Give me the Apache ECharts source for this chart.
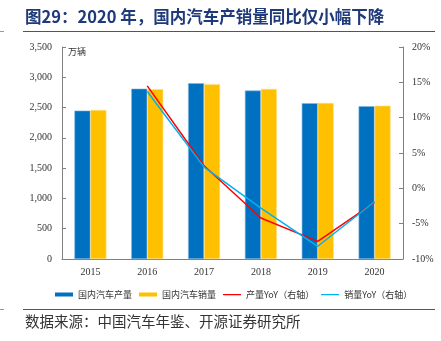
<!DOCTYPE html>
<html><head><meta charset="utf-8">
<script src="https://cdn.jsdelivr.net/npm/echarts@6/dist/echarts.min.js"></script>
<style>html,body{margin:0;padding:0;background:#fff}#c{width:441px;height:341px}</style>
</head><body><div id="c"></div>
<script>
const categories = ['2015','2016','2017','2018','2019','2020'];
const production = [2450.3, 2811.9, 2901.5, 2780.9, 2572.1, 2522.5];
const sales = [2459.8, 2802.8, 2887.9, 2808.1, 2576.9, 2531.1];
const productionYoY = [null, 14.5, 3.2, -4.2, -7.5, -2.0];
const salesYoY = [null, 13.7, 3.0, -2.8, -8.2, -1.9];
const seriesNames = ['国内汽车产量','国内汽车销量','产量YoY（右轴）','销量YoY（右轴）'];
const titleText = '图29：2020 年，国内汽车产销量同比仅小幅下降';
const sourceText = '数据来源：中国汽车年鉴、开源证券研究所';
const unitText = '万辆';

const serif = '"Liberation Serif","Noto Serif CJK SC","Noto Sans CJK SC",serif';
const cjk = '"Noto Sans CJK SC",sans-serif';
const lineIcon = 'path://M0,0L18,0Z M0,1.6h18v1.2h-18z M0,4L18,4Z';
const chart = echarts.init(document.getElementById('c'), null, {renderer:'canvas'});
chart.setOption({
  animation:false,
  backgroundColor:'#fff',
  grid:{left:62,right:38,top:47,bottom:82},
  graphic:[
    {type:'text',left:25,top:8,style:{text:titleText,font:'bold 16.5px '+cjk,fill:'#1F3A7A'}},
    {type:'line',shape:{x1:23,y1:31.5,x2:435,y2:31.5},style:{stroke:'#555',lineWidth:1}},
    {type:'line',shape:{x1:0,y1:31.5,x2:4,y2:31.5},style:{stroke:'#999',lineWidth:1}},
    {type:'line',shape:{x1:23,y1:309.5,x2:435,y2:309.5},style:{stroke:'#555',lineWidth:1}},
    {type:'line',shape:{x1:0,y1:309.5,x2:4,y2:309.5},style:{stroke:'#999',lineWidth:1}},
    {type:'text',left:25,top:314,style:{text:sourceText,font:'14.5px '+cjk,fill:'#333'}},
    {type:'text',left:68,top:47,style:{text:unitText,font:'9px '+cjk,fill:'#333'}}
  ],
  legend:{
    top:285,left:50,itemWidth:18,itemHeight:4,itemGap:7,
    textStyle:{fontFamily:cjk,fontSize:9,color:'#333'},
    itemStyle:{borderWidth:0},
    data:[
      {name:seriesNames[0],icon:'rect'},
      {name:seriesNames[1],icon:'rect'},
      {name:seriesNames[2],icon:lineIcon},
      {name:seriesNames[3],icon:lineIcon}
    ]
  },
  xAxis:{type:'category',data:categories,
    axisLine:{lineStyle:{color:'#808080'}},
    axisTick:{inside:true,length:4,lineStyle:{color:'#808080'}},
    axisLabel:{fontFamily:serif,fontSize:10,color:'#333',margin:8}},
  yAxis:[
    {type:'value',min:0,max:3500,interval:500,
     axisLine:{show:true,lineStyle:{color:'#808080'}},
     axisTick:{show:true,inside:true,length:4,lineStyle:{color:'#808080'}},
     splitLine:{show:false},
     axisLabel:{fontFamily:serif,fontSize:10,color:'#333',margin:10,
       formatter:v=>v.toLocaleString('en-US')}},
    {type:'value',min:-10,max:20,interval:5,position:'right',
     axisLine:{show:true,lineStyle:{color:'#808080'}},
     axisTick:{show:true,inside:true,length:4,lineStyle:{color:'#808080'}},
     splitLine:{show:false},
     axisLabel:{fontFamily:serif,fontSize:10,color:'#333',margin:9,formatter:'{value}%'}}
  ],
  series:[
    {name:seriesNames[0],type:'bar',data:production,barWidth:16,barGap:'0%',
     itemStyle:{color:'#0070C0',borderColor:'#7FB5E0',borderWidth:0.6}},
    {name:seriesNames[1],type:'bar',data:sales,barWidth:16,barGap:'0%',
     itemStyle:{color:'#FFC000',borderColor:'#FFE08A',borderWidth:0.6}},
    {name:seriesNames[2],type:'line',yAxisIndex:1,data:productionYoY,symbol:'none',
     lineStyle:{color:'#FF0000',width:1.5},itemStyle:{color:'#FF0000'}},
    {name:seriesNames[3],type:'line',yAxisIndex:1,data:salesYoY,symbol:'none',
     lineStyle:{color:'#00B0F0',width:1.5},itemStyle:{color:'#00B0F0'}}
  ]
});
</script></body></html>
